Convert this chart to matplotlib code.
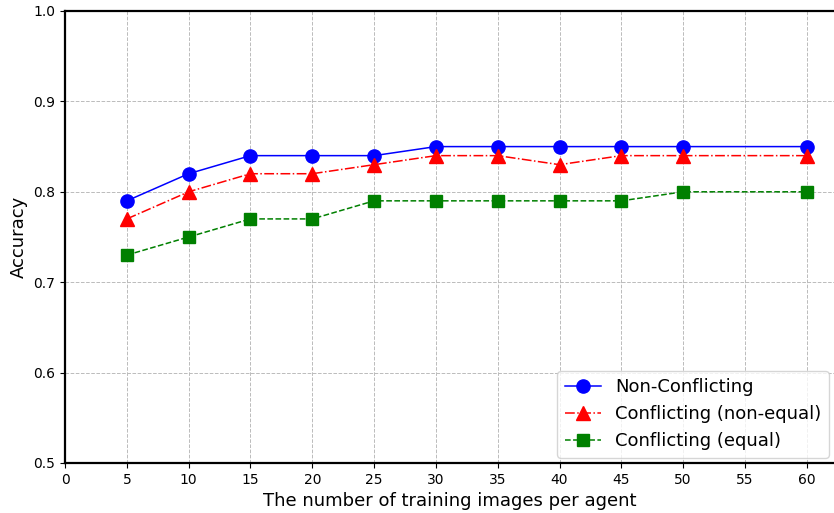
import matplotlib
matplotlib.use('Agg')
import matplotlib.pyplot as plt

x = [5, 10, 15, 20, 25, 30, 35, 40, 45, 50, 60]
non_conflicting = [0.79, 0.82, 0.84, 0.84, 0.84, 0.85, 0.85, 0.85, 0.85, 0.85, 0.85]
conflicting_nonequal = [0.77, 0.80, 0.82, 0.82, 0.83, 0.84, 0.84, 0.83, 0.84, 0.84, 0.84]
conflicting_equal = [0.73, 0.75, 0.77, 0.77, 0.79, 0.79, 0.79, 0.79, 0.79, 0.80, 0.80]
xticks = list(range(0, 61, 5))
yticks = [0.5, 0.6, 0.7, 0.8, 0.9, 1.0]

fig = plt.figure(figsize=(8.34, 5.13), dpi=100)
ax = fig.add_axes([65/834, 50/513, 769/834, 452/513])

ax.plot(x, non_conflicting, color='blue', linestyle='-', marker='o', markersize=9.5,
        linewidth=1.1, label='Non-Conflicting')
ax.plot(x, conflicting_nonequal, color='red', linestyle='-.', marker='^', markersize=9.5,
        linewidth=1.1, label='Conflicting (non-equal)')
ax.plot(x, conflicting_equal, color='green', linestyle='--', marker='s', markersize=8.5,
        linewidth=1.1, label='Conflicting (equal)')

ax.set_xlim(0, 62.2)
ax.set_ylim(0.5, 1.0)
ax.set_xticks(xticks)
ax.set_yticks(yticks)
ax.tick_params(labelsize=10)
ax.grid(True, linestyle='--', color='#bbbbbb', linewidth=0.7)
ax.set_axisbelow(True)

for s in ['left', 'top', 'bottom']:
    ax.spines[s].set_linewidth(1.6)
ax.spines['right'].set_visible(False)

ax.set_xlabel('The number of training images per agent', fontsize=13)
ax.set_ylabel('Accuracy', fontsize=13)
ax.legend(loc='lower right', fontsize=13, borderaxespad=0.3)

fig.savefig('out.png', dpi=100)
